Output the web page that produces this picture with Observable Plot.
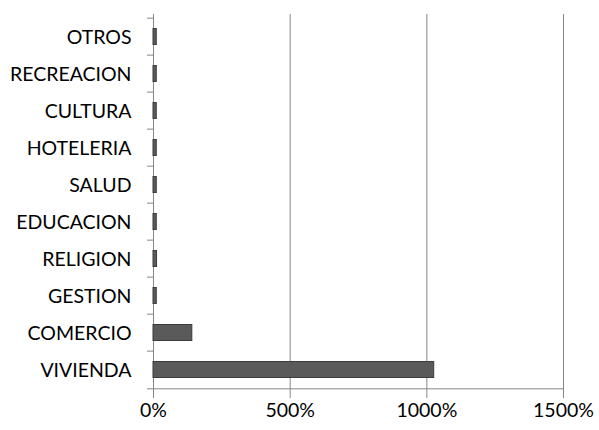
<!DOCTYPE html>
<html>
<head>
<meta charset="utf-8">
<script src="https://cdn.jsdelivr.net/npm/d3@7"></script>
<script src="https://cdn.jsdelivr.net/npm/@observablehq/plot@0.6"></script>
<style>
  html, body { margin: 0; padding: 0; background: #fff; }
  #chart svg { display: block; }
</style>
</head>
<body>
<div id="chart"></div>
<script>
const categories = ["OTROS", "RECREACION", "CULTURA", "HOTELERIA", "SALUD", "EDUCACION", "RELIGION", "GESTION", "COMERCIO", "VIVIENDA"];
const values = [12, 12, 12, 12, 12, 12, 13, 12, 142, 1027];
const xTicks = [0, 500, 1000, 1500];
const gridTicks = [500, 1000, 1500];

const data = categories.map((c, i) => ({category: c, value: values[i]}));

const marginTop = 14, marginBottom = 39, height = 430;
const step = (height - marginTop - marginBottom) / categories.length;

const chart = Plot.plot({
  width: 599,
  height,
  marginTop,
  marginBottom,
  marginLeft: 153,
  marginRight: 36,
  style: {fontFamily: "Lato, 'Open Sans', sans-serif", fontSize: "19.5px", color: "#000", background: "#fff"},
  x: {domain: [0, 1500]},
  y: {domain: categories, padding: 0},
  marks: [
    Plot.ruleX(gridTicks, {stroke: "#868686", strokeWidth: 1}),
    Plot.ruleX([0], {stroke: "#868686", strokeWidth: 1}),
    Plot.ruleY(categories, {y: d => d, x1: 0, x2: 0, insetLeft: -6, dy: -step / 2, stroke: "#868686"}),
    Plot.ruleY([categories[categories.length - 1]], {y: d => d, x1: 0, x2: 1500, insetLeft: -6, dy: step / 2, stroke: "#868686"}),
    Plot.barX(data, {y: "category", x: "value", fill: "#5a5a5a", stroke: "#3c3c3c", strokeWidth: 1, insetTop: 10.5, insetBottom: 10.5}),
    Plot.axisX({ticks: xTicks, tickFormat: d => d + "%", tickSize: 7, tickPadding: 5, stroke: "#868686", fontSize: 19.5, fill: "#000", label: null}),
    Plot.axisY({tickSize: 0, tickPadding: 22, dy: 1, fontSize: 19.5, fill: "#000", label: null})
  ]
});
document.getElementById("chart").append(chart);
</script>
</body>
</html>
